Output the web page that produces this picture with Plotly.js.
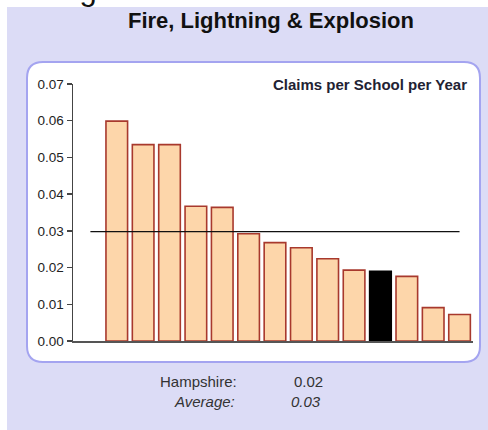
<!DOCTYPE html>
<html>
<head>
<meta charset="utf-8">
<script src="https://cdn.plot.ly/plotly-3.0.1.min.js"></script>
<style>
  html, body { margin: 0; padding: 0; background: #ffffff; }
  #chart { width: 488px; height: 430px; }
</style>
</head>
<body>
<div id="chart"></div>
<script>
// ---- data ----
const categories = ["A", "B", "C", "D", "E", "F", "G", "H", "I", "J", "Hampshire", "L", "M", "N"];
const claimsPerSchool = [0.0599, 0.0535, 0.0535, 0.0367, 0.0364, 0.0292, 0.0268, 0.0254, 0.0224, 0.0193, 0.0190, 0.0176, 0.0091, 0.0072];
const highlightCategory = "Hampshire";
const averageValue = 0.0298;
const yTickValues = [0, 0.01, 0.02, 0.03, 0.04, 0.05, 0.06, 0.07];
const yTickLabels = ["0.00", "0.01", "0.02", "0.03", "0.04", "0.05", "0.06", "0.07"];

// ---- layout geometry (pixels) ----
const W = 488, H = 430;
const M = { l: 73, r: 15, t: 84, b: 89 };
const PW = W - M.l - M.r, PH = H - M.t - M.b;
const px = x => (x - M.l) / PW;
const py = y => (H - M.b - y) / PH;

function roundRect(x0, y0, x1, y1, r) {
  const X0 = px(x0), X1 = px(x1), Yt = py(y0), Yb = py(y1);
  const rx = r / PW, ry = r / PH;
  return `M ${X0 + rx},${Yt} L ${X1 - rx},${Yt} Q ${X1},${Yt} ${X1},${Yt - ry} ` +
         `L ${X1},${Yb + ry} Q ${X1},${Yb} ${X1 - rx},${Yb} L ${X0 + rx},${Yb} ` +
         `Q ${X0},${Yb} ${X0},${Yb + ry} L ${X0},${Yt - ry} Q ${X0},${Yt} ${X0 + rx},${Yt} Z`;
}

const xIdx = categories.map((_, i) => i);
const hIdx = categories.indexOf(highlightCategory);
const fills = categories.map(c => c === highlightCategory ? "#000000" : "#fdd6aa");
const edges = categories.map(c => c === highlightCategory ? "#000000" : "#a8392d");

const bars = {
  type: "bar",
  x: xIdx,
  y: claimsPerSchool,
  width: 0.82,
  marker: {
    color: fills,
    line: { color: edges, width: 1.6 }
  },
  hoverinfo: "y",
  showlegend: false
};

const avgLine = {
  type: "scatter",
  mode: "lines",
  x: [-1, categories.length - 1],
  y: [averageValue, averageValue],
  line: { color: "#111111", width: 1.3 },
  hoverinfo: "skip",
  showlegend: false
};

const font = "Arial, 'Liberation Sans', sans-serif";

const layout = {
  width: W, height: H,
  margin: M,
  paper_bgcolor: "#ffffff",
  plot_bgcolor: "rgba(0,0,0,0)",
  showlegend: false,
  bargap: 0,
  xaxis: {
    range: [-1.66, 13.51],
    showticklabels: false,
    ticks: "",
    showgrid: false,
    zeroline: false,
    showline: true,
    linecolor: "#555555",
    linewidth: 2,
    fixedrange: true
  },
  yaxis: {
    range: [0, 0.07],
    tickvals: yTickValues,
    ticktext: yTickLabels,
    ticks: "outside",
    ticklen: 5,
    tickwidth: 1.3,
    tickcolor: "#444444",
    showgrid: false,
    zeroline: false,
    showline: true,
    linecolor: "#444444",
    linewidth: 1.5,
    tickfont: { family: font, size: 13.5, color: "#222222" },
    fixedrange: true
  },
  shapes: [
    { type: "rect", xref: "paper", yref: "paper", layer: "below",
      x0: px(7), x1: px(W), y0: py(H), y1: py(7),
      fillcolor: "#dcdcf6", line: { width: 0 } },
    { type: "path", xref: "paper", yref: "paper", layer: "below",
      path: roundRect(27, 62, 480, 362, 16),
      fillcolor: "#ffffff", line: { color: "#a4a4f0", width: 2 } }
  ],
  annotations: [
    { xref: "paper", yref: "paper", x: px(0), y: py(9), xanchor: "left", yanchor: "bottom",
      text: "average", showarrow: false,
      font: { family: font, size: 31, color: "#111111" } },
    { xref: "paper", yref: "paper", x: px(270.5), y: py(21), xanchor: "center", yanchor: "middle",
      text: "<b>Fire, Lightning &amp; Explosion</b>", showarrow: false,
      font: { family: font, size: 22, color: "#111111" } },
    { xref: "paper", yref: "paper", x: px(469), y: py(84), xanchor: "right", yanchor: "middle",
      text: "<b>Claims per School per Year</b>", showarrow: false,
      font: { family: font, size: 15, color: "#222233" } },
    { xref: "paper", yref: "paper", x: px(239), y: py(382), xanchor: "right", yanchor: "middle",
      text: highlightCategory + ":", showarrow: false,
      font: { family: font, size: 15, color: "#333333" } },
    { xref: "paper", yref: "paper", x: px(292), y: py(382), xanchor: "left", yanchor: "middle",
      text: claimsPerSchool[hIdx].toFixed(2), showarrow: false,
      font: { family: font, size: 15, color: "#333333" } },
    { xref: "paper", yref: "paper", x: px(237), y: py(401), xanchor: "right", yanchor: "middle",
      text: "<i>Average:</i>", showarrow: false,
      font: { family: font, size: 15, color: "#333333" } },
    { xref: "paper", yref: "paper", x: px(289), y: py(401), xanchor: "left", yanchor: "middle",
      text: "<i>" + averageValue.toFixed(2) + "</i>", showarrow: false,
      font: { family: font, size: 15, color: "#333333" } }
  ]
};

Plotly.newPlot("chart", [bars, avgLine], layout, { displayModeBar: false, staticPlot: true });
</script>
</body>
</html>
